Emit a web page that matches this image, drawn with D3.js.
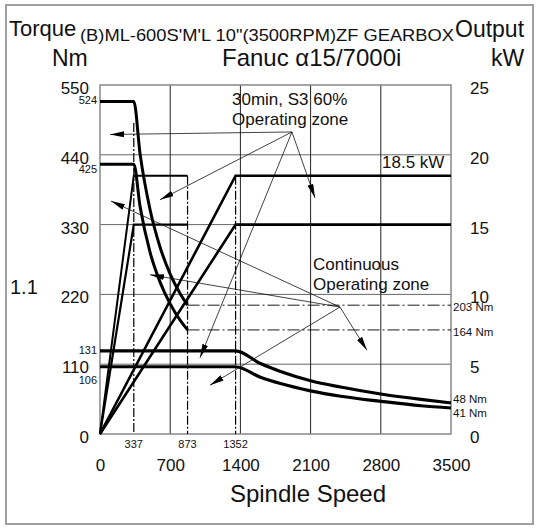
<!DOCTYPE html>
<html><head><meta charset="utf-8">
<script src="https://cdn.jsdelivr.net/npm/d3@7/dist/d3.min.js"></script>
<style>
body{margin:0;background:#fff;}
text{font-family:"Liberation Sans",Arial,sans-serif;fill:#111;}
</style></head>
<body><svg id="c" width="540" height="531"></svg>
<script>
// ---- data ----
const speedTicks = [0, 700, 1400, 2100, 2800, 3500];
const torqueTicks = [0, 110, 220, 330, 440, 550];
const powerTicks = [0, 5, 10, 15, 20, 25];
const markSpeeds = [337, 873, 1352];

// low gear torque (S3 / continuous)
const lowSpeed = [0, 337, 400, 500, 600, 700, 800, 873];
const lowS3Torque = [524, 524, 441, 353, 294, 252, 221, 203];
const lowContTorque = [425, 425, 358, 286, 239, 205, 179, 164];
// high gear torque
const highSpeed = [0, 1352, 1600, 1800, 2100, 2400, 2800, 3200, 3500];
const highS3Torque = [131, 131, 111, 98.5, 84, 74, 63, 54.5, 49];
const highContTorque = [106, 106, 89.5, 79.5, 68, 59.5, 51.5, 44.5, 41];
// output power (kW)
const lowPowerSpeed = [0, 337, 873];
const lowS3Power = [0, 18.5, 18.5];
const lowContPower = [0, 15, 15];
const highPowerSpeed = [0, 1352, 3500];
const highS3Power = [0, 18.5, 18.5];
const highContPower = [0, 15, 15];
// reference torques at right
const refTorques = [203, 164];
const refLabels = ["203 Nm", "164 Nm"];
const endLabels = ["48 Nm", "41 Nm"];
const cornerLabels = ["524", "425", "131", "106"];
const cornerTorques = [524, 425, 131, 106];

// annotation leaders: [speed, torque]
const s3Apex = [1914, 476];
const s3Tips = [[100, 472], [598, 369], [997, 120], [2144, 372]];
const contApex = [2393, 200];
const contTips = [[110, 367], [499, 251], [2662, 132], [1097, 77]];

// ---- drawing ----
const svg = d3.select("#c");
const x = d3.scaleLinear().domain([0, 3500]).range([100, 451]);
const yT = d3.scaleLinear().domain([0, 550]).range([434, 85]);
const yP = d3.scaleLinear().domain([0, 25]).range([434, 85]);

// outer frame
svg.append("rect").attr("x", 6).attr("y", 5).attr("width", 527).attr("height", 519)
  .attr("fill", "none").attr("stroke", "#a0a0a0").attr("stroke-width", 2);

const defs = svg.append("defs");
defs.append("marker").attr("id", "ah").attr("viewBox", "0 0 14 6")
  .attr("refX", 14).attr("refY", 3).attr("markerWidth", 14).attr("markerHeight", 6)
  .attr("markerUnits", "userSpaceOnUse").attr("orient", "auto")
  .append("path").attr("d", "M0,0 L14,3 L0,6 Z").attr("fill", "#000");

// grid
svg.append("g").selectAll("line").data(torqueTicks.slice(1, 5)).join("line")
  .attr("x1", x(0)).attr("x2", x(3500)).attr("y1", d => yT(d)).attr("y2", d => yT(d))
  .attr("stroke", "#666").attr("stroke-width", 1);
svg.append("g").selectAll("line").data(speedTicks.slice(1, 5)).join("line")
  .attr("x1", d => x(d)).attr("x2", d => x(d)).attr("y1", yT(0)).attr("y2", yT(550))
  .attr("stroke", "#222").attr("stroke-width", 1);
// plot frame
svg.append("rect").attr("x", x(0)).attr("y", yT(550)).attr("width", x(3500) - x(0)).attr("height", yT(0) - yT(550))
  .attr("fill", "none").attr("stroke", "#888").attr("stroke-width", 1.5);

// dash-dot reference lines
const dd = "9,2,2,2";
svg.append("line").attr("x1", x(337)).attr("x2", x(337)).attr("y1", yT(490)).attr("y2", yT(0))
  .attr("stroke", "#000").attr("stroke-width", 1.2).attr("stroke-dasharray", dd);
svg.append("line").attr("x1", x(873)).attr("x2", x(873)).attr("y1", yP(18.5)).attr("y2", yT(0))
  .attr("stroke", "#000").attr("stroke-width", 1.2).attr("stroke-dasharray", dd);
svg.append("line").attr("x1", x(1352)).attr("x2", x(1352)).attr("y1", yP(18.5)).attr("y2", yT(0))
  .attr("stroke", "#000").attr("stroke-width", 1.2).attr("stroke-dasharray", dd);
svg.append("g").selectAll("line").data(refTorques).join("line")
  .attr("x1", x(873)).attr("x2", x(3500)).attr("y1", d => yT(d)).attr("y2", d => yT(d))
  .attr("stroke", "#000").attr("stroke-width", 0.9).attr("stroke-dasharray", "12,3,2,3");

// curves
const lineT = (xs, ys) => d3.line().x((d, i) => x(xs[i])).y(d => yT(d)).curve(d3.curveMonotoneX)(ys);
const lineP = (xs, ys) => d3.line().x((d, i) => x(xs[i])).y(d => yP(d))(ys);
const curves = [
  [lineT(lowSpeed, lowS3Torque), 3],
  [lineT(lowSpeed, lowContTorque), 3],
  [lineT(highSpeed, highS3Torque), 3.2],
  [lineT(highSpeed, highContTorque), 3.2],
  [lineP(lowPowerSpeed, lowS3Power), 2],
  [lineP(lowPowerSpeed, lowContPower), 2.2],
  [lineP(highPowerSpeed, highS3Power), 2.6],
  [lineP(highPowerSpeed, highContPower), 2.6]
];
svg.append("g").selectAll("path").data(curves).join("path")
  .attr("d", d => d[0]).attr("fill", "none").attr("stroke", "#000")
  .attr("stroke-width", d => d[1]).attr("stroke-linejoin", "miter");

// annotation leaders
function leaders(apex, tips) {
  svg.append("g").selectAll("line").data(tips).join("line")
    .attr("x1", x(apex[0])).attr("y1", yT(apex[1]))
    .attr("x2", d => x(d[0])).attr("y2", d => yT(d[1]))
    .attr("stroke", "#111").attr("stroke-width", 0.8).attr("marker-end", "url(#ah)");
}
leaders(s3Apex, s3Tips);
leaders(contApex, contTips);

// axes
const fs = "17px";
const gl = svg.append("g").attr("transform", `translate(${x(0)},0)`)
  .call(d3.axisLeft(yT).tickValues(torqueTicks).tickSize(0).tickPadding(11));
const gr = svg.append("g").attr("transform", `translate(${x(3500)},0)`)
  .call(d3.axisRight(yP).tickValues(powerTicks).tickSize(0).tickPadding(19));
const gb = svg.append("g").attr("transform", `translate(0,${yT(0)})`)
  .call(d3.axisBottom(x).tickValues(speedTicks).tickFormat(d3.format("d")).tickSize(0).tickPadding(25));
[gl, gr, gb].forEach(g => {
  g.select(".domain").remove();
  g.selectAll("text").attr("font-size", fs).attr("font-family", null).attr("fill", "#111");
});
gl.selectAll("text").attr("dy", "0.5em");
gr.selectAll("text").attr("dy", "0.5em");

// small labels
const cornerOffsets = [3, 9, 3, 17];
svg.append("g").selectAll("text").data(cornerLabels).join("text")
  .attr("x", 97).attr("y", (d, i) => yT(cornerTorques[i]) + cornerOffsets[i])
  .attr("text-anchor", "end").attr("font-size", "11px").text(d => d);
svg.append("g").selectAll("text").data(markSpeeds).join("text")
  .attr("x", d => x(d)).attr("y", 448).attr("text-anchor", "middle").attr("font-size", "11px").text(d => d);
svg.append("g").selectAll("text").data(refLabels).join("text")
  .attr("x", 453).attr("y", (d, i) => yT(refTorques[i]) + 6).attr("font-size", "11.5px").text(d => d);
svg.append("g").selectAll("text").data(endLabels).join("text")
  .attr("x", 453).attr("y", (d, i) => yT(highS3Torque[8]) + 0 + i * 14.5).attr("font-size", "11.5px").text(d => d);

// annotation texts
svg.append("text").attr("x", 232).attr("y", 105).attr("font-size", "17px").text("30min, S3 60%");
svg.append("text").attr("x", 232).attr("y", 125).attr("font-size", "17px").text("Operating zone");
svg.append("text").attr("x", 313).attr("y", 270).attr("font-size", "17px").text("Continuous");
svg.append("text").attr("x", 313).attr("y", 290).attr("font-size", "17px").text("Operating zone");
svg.append("text").attr("x", 382).attr("y", 168).attr("font-size", "17px").text("18.5 kW");
svg.append("text").attr("x", 10).attr("y", 294).attr("font-size", "20px").text("1.1");

// titles
svg.append("text").attr("x", 9).attr("y", 36).attr("font-size", "22px").text("Torque");
svg.append("text").attr("x", 80).attr("y", 41).attr("font-size", "16.5px")
  .attr("textLength", 374).attr("lengthAdjust", "spacingAndGlyphs")
  .text("(B)ML-600S'M'L 10\"(3500RPM)ZF GEARBOX");
svg.append("text").attr("x", 455).attr("y", 37).attr("font-size", "23px").text("Output");
svg.append("text").attr("x", 52).attr("y", 66).attr("font-size", "23px").text("Nm");
svg.append("text").attr("x", 222).attr("y", 66).attr("font-size", "24px").text("Fanuc α15/7000i");
svg.append("text").attr("x", 491).attr("y", 66).attr("font-size", "23px").text("kW");
svg.append("text").attr("x", 308).attr("y", 502).attr("text-anchor", "middle").attr("font-size", "24px").text("Spindle Speed");
</script></body></html>
